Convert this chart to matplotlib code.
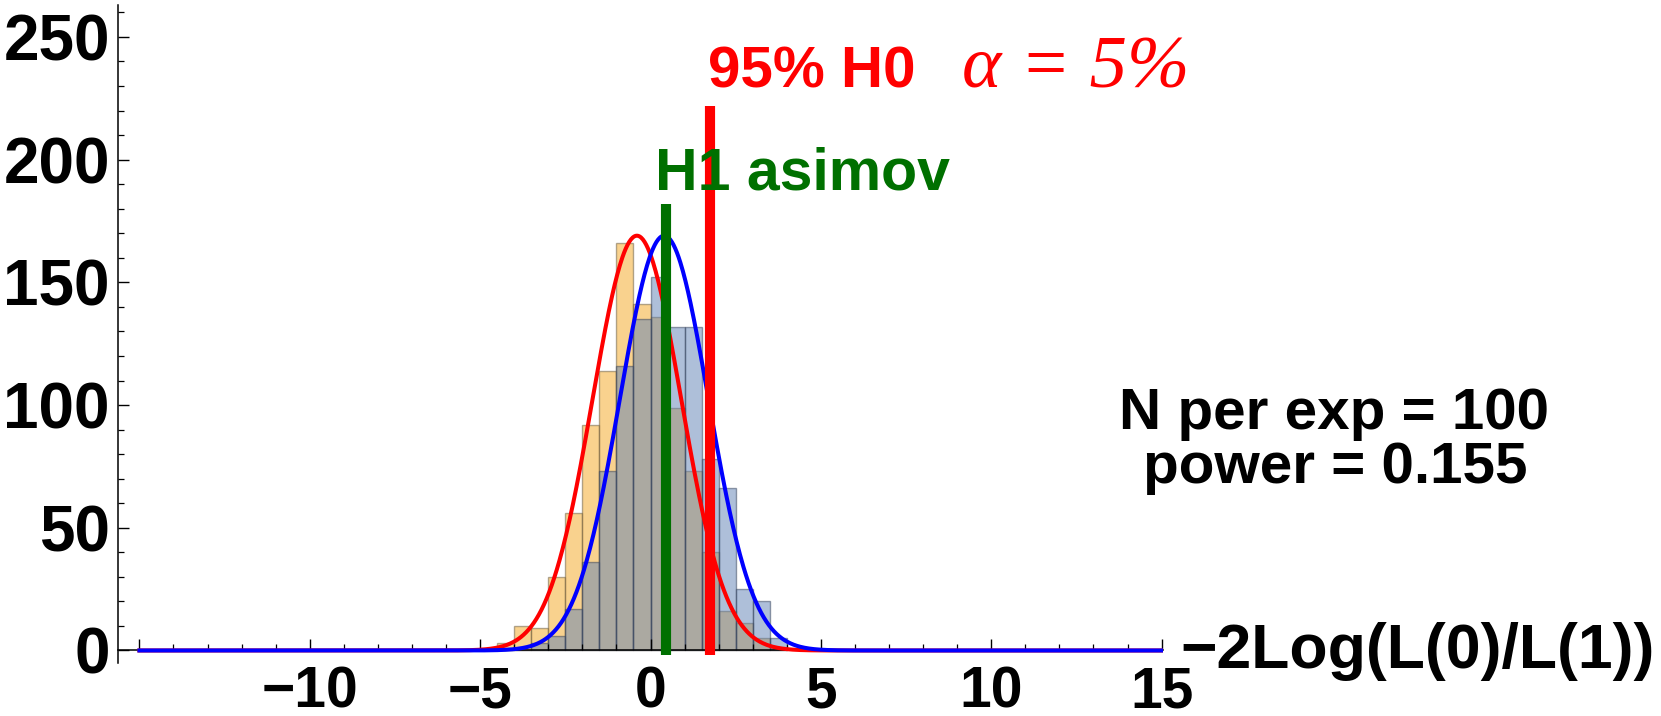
import matplotlib.pyplot as plt
from matplotlib.ticker import MultipleLocator
import numpy as np

plt.rcParams['font.family'] = ['Liberation Sans', 'DejaVu Sans']
plt.rcParams['font.weight'] = 'bold'

# histogram of -2Log(L(0)/L(1)), bins of width 0.5 starting at -4.5
bin_left = [-4.5, -4.0, -3.5, -3.0, -2.5, -2.0, -1.5, -1.0, -0.5,
            0.0, 0.5, 1.0, 1.5, 2.0, 2.5, 3.0, 3.5]
bin_width = 0.5
h0_counts = [3, 10, 9, 30, 56, 92, 114, 166, 141, 136, 99, 73, 40, 16, 11, 5, 1]
h1_counts = [0, 0, 3, 6, 17, 36, 73, 116, 135, 152, 132, 132, 78, 66, 25, 20, 5]

# gaussian fits drawn over the histograms
h0_mean, h1_mean = -0.40, 0.40
fit_sigma = 1.30
fit_peak = 169
curve_range = (-15, 15)

# marker lines
h1_asimov_x, h1_asimov_top = 0.46, 182
h0_95_x, h0_95_top = 1.74, 222

n_per_exp = 100
power = 0.155

x_ticks = [-15, -10, -5, 0, 5, 10, 15]
x_labels = ['', '\u221210', '\u22125', '0', '5', '10', '15']
y_ticks = [0, 50, 100, 150, 200, 250]

W, H = 1661, 716
fig = plt.figure(figsize=(W / 100, H / 100), dpi=100)
ax = fig.add_axes([118.3 / W, 53 / H, (1163 - 118.3) / W, (663 - 5) / H])

orange = (0.96, 0.65, 0.12)
blue = (0.368417, 0.506779, 0.709798)
ax.bar(bin_left, h0_counts, width=bin_width, align='edge', color=orange, alpha=0.5,
       edgecolor=(0.4, 0.35, 0.25, 0.45), linewidth=1.0, zorder=1)
ax.bar(bin_left, h1_counts, width=bin_width, align='edge', color=blue, alpha=0.5,
       edgecolor=(0.2, 0.25, 0.35, 0.5), linewidth=1.0, zorder=1)

xs = np.linspace(curve_range[0], curve_range[1], 1201)
ax.plot(xs, fit_peak * np.exp(-0.5 * ((xs - h0_mean) / fit_sigma) ** 2),
        color='red', lw=2.9, zorder=3)
ax.plot(xs, fit_peak * np.exp(-0.5 * ((xs - h1_mean) / fit_sigma) ** 2),
        color='blue', lw=2.9, zorder=3)

ax.plot([h1_asimov_x, h1_asimov_x], [-2, h1_asimov_top], color='#007000',
        lw=7.3, solid_capstyle='butt', zorder=4)
ax.plot([h0_95_x, h0_95_x], [-2, h0_95_top], color='red',
        lw=7.3, solid_capstyle='butt', zorder=6)

ax.set_xlim(-15.62, 15.04)
ax.set_ylim(-5.1, 263)

ax.spines['top'].set_visible(False)
ax.spines['right'].set_visible(False)
ax.spines['bottom'].set_position(('data', 0))
for s in ('left', 'bottom'):
    ax.spines[s].set_linewidth(1.1)
    ax.spines[s].set_zorder(2)

ax.set_xticks(x_ticks)
ax.set_xticklabels(x_labels)
ax.set_yticks(y_ticks)
ax.xaxis.set_minor_locator(MultipleLocator(1))
ax.yaxis.set_minor_locator(MultipleLocator(10))
ax.tick_params(which='major', direction='in', length=8, width=1)
ax.tick_params(which='minor', direction='in', length=4.5, width=0.9)
ax.tick_params(axis='x', which='major', pad=11, labelsize=41)
ax.tick_params(axis='y', which='major', pad=6, labelsize=46)

def px(x, y):
    return x / W, 1 - y / H

fig.text(*px(1180, 668), '\u22122Log(L(0)/L(1))', fontsize=45, fontweight='bold',
         ha='left', va='baseline')
fig.text(*px(1334, 429), 'N per exp = %d' % n_per_exp, fontsize=42, fontweight='bold',
         ha='center', va='baseline')
fig.text(*px(1335, 483), 'power = %.3f' % power, fontsize=42, fontweight='bold',
         ha='center', va='baseline')
fig.text(*px(655, 189), 'H1 asimov', fontsize=42.5, fontweight='bold', color='#007000',
         ha='left', va='baseline', zorder=5)
fig.text(*px(708, 88), '95% H0', fontsize=42, fontweight='bold', color='red',
         ha='left', va='baseline')
fig.text(*px(962, 88), '\u03b1 = 5%', fontsize=54, family='Liberation Serif',
         style='italic', fontweight='normal', color='red', ha='left', va='baseline')

fig.savefig('out.png', dpi=100)
